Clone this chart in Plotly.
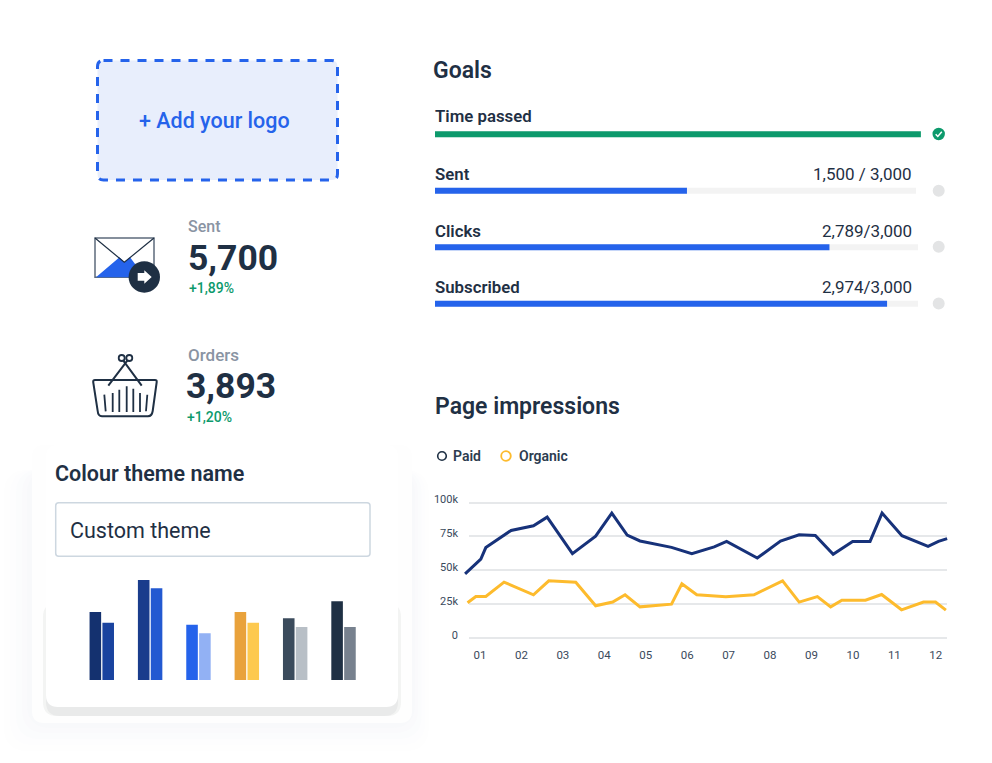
import plotly.graph_objects as go

W, H = 992, 763
FONT = "Roboto"
DARK = "#1f3044"
BLUE = "#2563eb"
GREEN = "#0d9a6c"

# Page impressions, month position on the x axis, values in visits
paid_x = [0.64, 1.02, 1.14, 1.75, 2.29, 2.62, 3.23, 3.79, 4.18, 4.55, 4.86, 5.62, 6.11,
          6.65, 6.95, 7.69, 8.25, 8.70, 9.09, 9.52, 9.99, 10.41, 10.70, 11.18, 11.81, 12.06, 12.27]
paid_y = [47300, 58300, 66700, 79400, 82800, 89200, 62300, 75200, 92200, 76000, 71600, 66900, 62300,
          67200, 71300, 59000, 71600, 76200, 75700, 61800, 71300, 71300, 92200, 75500, 67600, 71300, 73300]
organic_x = [0.70, 0.90, 1.14, 1.58, 2.29, 2.66, 3.31, 3.79, 4.20, 4.50, 4.86, 5.62, 5.87, 6.23,
             6.93, 7.61, 8.30, 8.70, 9.14, 9.46, 9.73, 10.30, 10.69, 11.17, 11.70, 11.99, 12.24]
organic_y = [26000, 30600, 30600, 41200, 31900, 42200, 41200, 23800, 26500, 31900, 23000, 25000, 40000, 31900,
             30400, 31900, 42200, 26500, 30600, 23000, 27900, 27900, 32100, 20800, 26500, 26500, 20600]
month_ticks = list(range(1, 13))
month_labels = ["01", "02", "03", "04", "05", "06", "07", "08", "09", "10", "11", "12"]
impression_ticks = [0, 25000, 50000, 75000, 100000]
impression_labels = ["0", "25k", "50k", "75k", "100k"]

# Goals
goal_names = ["Time passed", "Sent", "Clicks", "Subscribed"]
goal_text = ["", "1,500 / 3,000", "2,789/3,000", "2,974/3,000"]
goal_track = [3000, 2988, 3000, 3000]
goal_fill = [3018, 1565, 2450, 2808]
goal_colors = [GREEN, BLUE, BLUE, BLUE]

# Colour theme preview
theme_groups = ["a", "b", "c", "d", "e", "f"]
theme_first = [68, 100, 55.3, 68, 61.7, 78.7]
theme_second = [57.3, 91.7, 46.7, 57.3, 53, 53]
first_colors = ["#14316f", "#1a3c8c", "#2563eb", "#e9a23b", "#3b4b5c", "#1f3044"]
second_colors = ["#1a439f", "#2359d1", "#92b1f4", "#fdc94f", "#b8bfc6", "#77818e"]


def dom_x(a, b):
    return [a / W, b / W]


def dom_y(top, bottom):
    return [1 - bottom / H, 1 - top / H]


def round_rect(x0, y0, x1, y1, r):
    return (f"M{x0+r},{y0} L{x1-r},{y0} Q{x1},{y0} {x1},{y0+r} L{x1},{y1-r} Q{x1},{y1} {x1-r},{y1} "
            f"L{x0+r},{y1} Q{x0},{y1} {x0},{y1-r} L{x0},{y0+r} Q{x0},{y0} {x0+r},{y0} Z")


def shape(path, fill="rgba(0,0,0,0)", line=None, width=0, layer="below", dash=None):
    d = dict(type="path", path=path, xref="x", yref="y", fillcolor=fill, layer=layer,
             line=dict(color=line or "rgba(0,0,0,0)", width=width))
    if dash:
        d["line"]["dash"] = dash
    return d


def circle(cx, cy, r, fill="rgba(0,0,0,0)", line=None, width=0, layer="below"):
    return dict(type="circle", xref="x", yref="y", x0=cx - r, x1=cx + r, y0=cy - r, y1=cy + r,
                fillcolor=fill, layer=layer, line=dict(color=line or "rgba(0,0,0,0)", width=width))


def label(x, y, text, size, color=DARK, weight=400, anchor="left"):
    # annotations carry a little padding, take it back out
    x = x - 2 if anchor == "left" else x + 2
    return dict(x=x, y=y, xref="x", yref="y", text=text, showarrow=False, xanchor=anchor, yanchor="middle",
                font=dict(family=FONT, size=size, color=color, weight=weight))


fig = go.Figure()

# pixel layer for the interface parts, has to stay the first subplot
fig.add_trace(go.Scatter(x=[], y=[], xaxis="x", yaxis="y", showlegend=False))

# goals: grey track, then coloured fill
fig.add_trace(go.Bar(y=goal_names, x=goal_track, orientation="h", xaxis="x2", yaxis="y2", width=0.106, offset=-0.053,
                     marker=dict(color="#f3f3f3", line_width=0), showlegend=False))
fig.add_trace(go.Bar(y=goal_names, x=goal_fill, orientation="h", xaxis="x2", yaxis="y2", width=0.106, offset=-0.053,
                     marker=dict(color=goal_colors, line_width=0), showlegend=False))

# theme bars
fig.add_trace(go.Bar(x=theme_groups, y=theme_first, xaxis="x3", yaxis="y3",
                     marker=dict(color=first_colors, line_width=0), showlegend=False))
fig.add_trace(go.Bar(x=theme_groups, y=theme_second, xaxis="x3", yaxis="y3",
                     marker=dict(color=second_colors, line_width=0), showlegend=False))

# page impressions: x4/y4 hold ticks and grid, the lines sit on a slightly wider x5/y5
# because they run a few pixels past the grid on the left
fig.add_trace(go.Scatter(x=[], y=[], xaxis="x4", yaxis="y4", showlegend=False))
fig.add_trace(go.Scatter(x=paid_x, y=paid_y, name="Paid", mode="lines", xaxis="x5", yaxis="y5",
                         line=dict(color="#17327a", width=3), showlegend=False))
fig.add_trace(go.Scatter(x=organic_x, y=organic_y, name="Organic", mode="lines", xaxis="x5", yaxis="y5",
                         line=dict(color="#fdbb2d", width=3), showlegend=False))

shapes = []

# card with its soft shadow
for grow, tint in [(28, "#fefefe"), (22, "#fdfdfe"), (16, "#fbfcfd"), (10, "#fafafc"), (5, "#f8f9fb")]:
    shapes.append(shape(round_rect(32 - grow, 470, 412 + grow * 0.6, 723 + grow, 24), fill=tint))
shapes.append(shape(round_rect(32, 445, 412, 723, 12), fill="#fefefe"))
shapes.append(shape(round_rect(43, 603, 401, 716, 14), fill="#f3f4f3"))
shapes.append(shape(round_rect(46, 640, 398, 716, 14), fill="#e9eaea"))
shapes.append(shape(round_rect(46, 445, 398, 707, 12), fill="#ffffff"))
shapes.append(shape(round_rect(55.7, 502.7, 370, 556.3, 3), fill="#ffffff", line="#cdd7e0", width=1.5))

# logo drop zone
shapes.append(shape(round_rect(97.5, 60.5, 337.5, 180, 6), fill="#e8eefc", line=BLUE, width=3, dash="9px,8px"))

# envelope icon
shapes.append(shape("M95,238 L154,238 L154,277.3 L95,277.3 Z", fill="#ffffff", line="#5d6b7c", width=1.5))
shapes.append(shape("M96,277.3 L119.5,257.3 L124.3,262.3 L130,257.3 L145,277.3 Z", fill=BLUE))
shapes.append(shape("M95,238 L124.3,262.3 L154,238", line=DARK, width=1.2))
shapes.append(circle(144.3, 277, 15.7, fill=DARK))
shapes.append(shape("M137.7,273 L144.3,273 L144.3,270.3 L151.7,277 L144.3,283.7 L144.3,280.7 L137.7,280.7 Z", fill="#ffffff"))

# basket icon
shapes.append(shape("M95,380 L155,380 Q157,380 156.7,382 L152.7,411 Q152,416 148,416.3 L102,416.3 Q98,416 97.7,411 L93.2,382 Q93,380 95,380 Z",
                    line=DARK, width=2))
shapes.append(shape("M108.3,385.7 L127.3,360.7 M141.7,385.7 L123.3,360.7", line=DARK, width=2))
shapes.append(circle(121.7, 358, 3, line=DARK, width=1.8))
shapes.append(circle(129.3, 358, 3, line=DARK, width=1.8))
shapes.append(shape("M104.3,394.7 L105.7,411.3 M112.7,393 L112.7,412 M119.3,389.7 L119.3,412 M126.7,386.3 L126.7,412 "
                    "M133.3,388.7 L133.3,412 M140,393 L140,412 M147.3,394.7 L146,411.3", line=DARK, width=1.8))

# goal status dots
shapes.append(circle(938.7, 134, 6.2, fill=GREEN))
shapes.append(shape("M935.7,134.3 L937.8,136.5 L941.8,131.8", line="#ffffff", width=1.5))
for cy in [190.7, 246.7, 303.5]:
    shapes.append(circle(938.7, cy, 6, fill="#e3e4e5"))

# legend rings
shapes.append(circle(442, 456, 4.3, fill="#ffffff", line=DARK, width=1.6))
shapes.append(circle(506, 456, 4.8, fill="#ffffff", line="#fdbb2d", width=1.8))

annotations = [
    label(139, 120.5, "+ Add your logo", 21.5, BLUE, 500),
    label(188, 226, "Sent", 16, "#8a94a3", 500),
    label(188, 258, "5,700", 35.5, DARK, 700),
    label(189, 288, "+1,89%", 14, GREEN, 500),
    label(188, 355, "Orders", 17, "#8a94a3", 500),
    label(186, 386, "3,893", 35.5, DARK, 700),
    label(187, 417, "+1,20%", 14, GREEN, 500),
    label(55, 473.5, "Colour theme name", 21.5, DARK, 600),
    label(70, 530, "Custom theme", 21.5, DARK, 400),
    label(433, 70, "Goals", 23, DARK, 600),
    label(435, 406, "Page impressions", 23, DARK, 600),
    label(453, 456, "Paid", 14, "#2c3c50", 600),
    label(519, 456, "Organic", 14, "#2c3c50", 600),
]
goal_label_y = [116, 174, 231, 287]
for name, text, y in zip(goal_names, goal_text, goal_label_y):
    annotations.append(label(435, y, name, 16.8, DARK, 600))
    if text:
        annotations.append(label(912, y, text, 17, DARK, 400, anchor="right"))

hidden = dict(visible=False, fixedrange=True)
fig.update_layout(
    width=W, height=H,
    margin=dict(l=0, r=0, t=0, b=0, autoexpand=False),
    paper_bgcolor="#ffffff",
    plot_bgcolor="rgba(0,0,0,0)",
    font=dict(family=FONT, color=DARK),
    barmode="group",
    bargap=0.468,
    bargroupgap=0.1,
    shapes=shapes,
    annotations=annotations,
    xaxis=dict(domain=[0, 1], range=[0, W], **hidden),
    yaxis=dict(domain=[0, 1], range=[H, 0], **hidden),
    xaxis2=dict(domain=dom_x(435, 925), range=[0, 3043.5], anchor="y2", **hidden),
    yaxis2=dict(domain=dom_y(106, 332), range=[3.5, -0.5], anchor="x2", type="category", **hidden),
    xaxis3=dict(domain=dom_x(77.6, 367.7), anchor="y3", type="category", **hidden),
    yaxis3=dict(domain=dom_y(570, 680), range=[0, 110], anchor="x3", **hidden),
    xaxis4=dict(domain=dom_x(469, 947), range=[0.735, 12.27], anchor="y4", tickmode="array",
                tickvals=month_ticks, ticktext=month_labels, showgrid=False, zeroline=False,
                showline=False, ticks="", tickfont=dict(family=FONT, size=11.5, color="#3a4a5c"), ticklabelstandoff=7),
    yaxis4=dict(domain=dom_y(501.15, 639.35), range=[-1000, 101000], anchor="x4", tickmode="array",
                tickvals=impression_ticks, ticktext=impression_labels, showgrid=True, gridcolor="#e6e8ea",
                gridwidth=1.5, zeroline=False, showline=False, ticks="",
                tickfont=dict(family=FONT, size=11, color="#3a4a5c"), ticklabelstandoff=10, ticklabelshift=-3),
    xaxis5=dict(domain=dom_x(460, 950), range=[0.5175, 12.339], anchor="y5", **hidden),
    yaxis5=dict(domain=dom_y(501.15, 639.35), range=[-1000, 101000], anchor="x5", **hidden),
)

fig.write_html("out.html", config={"displayModeBar": False}, post_script="document.body.style.margin='0';")
